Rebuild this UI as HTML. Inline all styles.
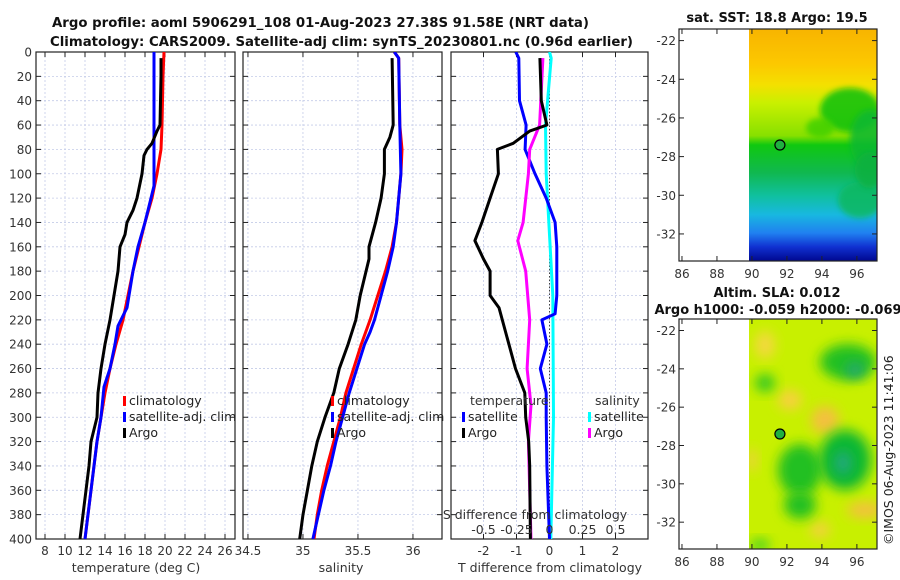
<!DOCTYPE html>
<html><head><meta charset="utf-8">
<style>
html,body{margin:0;padding:0;background:#fff;}
svg{display:block;font-family:"DejaVu Sans","Liberation Sans",sans-serif;}
</style></head>
<body>
<svg id="fig" width="900" height="580" viewBox="0 0 900 580" xmlns="http://www.w3.org/2000/svg">
<defs>
  <filter id="blur6" x="-50%" y="-50%" width="200%" height="200%"><feGaussianBlur stdDeviation="6"/></filter>
  <filter id="blur3" x="-50%" y="-50%" width="200%" height="200%"><feGaussianBlur stdDeviation="3"/></filter>
  <linearGradient id="sstGrad" x1="0" y1="0" x2="0" y2="1">
    <stop offset="0" stop-color="#f8b400"/>
    <stop offset="0.15" stop-color="#fcc800"/>
    <stop offset="0.24" stop-color="#f4e000"/>
    <stop offset="0.32" stop-color="#c8f000"/>
    <stop offset="0.46" stop-color="#88e000"/>
    <stop offset="0.5" stop-color="#10c810"/>
    <stop offset="0.62" stop-color="#10b850"/>
    <stop offset="0.72" stop-color="#10c0a0"/>
    <stop offset="0.8" stop-color="#18b8e0"/>
    <stop offset="0.88" stop-color="#2080f0"/>
    <stop offset="0.94" stop-color="#1030d0"/>
    <stop offset="1" stop-color="#000890"/>
  </linearGradient>
  <clipPath id="clipSST"><rect x="749" y="29" width="128" height="232"/></clipPath>
  <clipPath id="clipSLA"><rect x="749" y="319" width="128" height="230"/></clipPath>
  <clipPath id="clipP1"><rect x="36" y="52" width="199" height="487"/></clipPath>
  <clipPath id="clipP2"><rect x="243" y="52" width="199" height="487"/></clipPath>
  <clipPath id="clipP3"><rect x="451" y="52" width="197" height="487"/></clipPath>
</defs>

<text x="52" y="27" font-size="13" font-weight="bold" fill="#111" textLength="537" lengthAdjust="spacingAndGlyphs">Argo profile: aoml 5906291_108 01-Aug-2023 27.38S 91.58E (NRT data)</text>
<text x="50" y="46" font-size="13" font-weight="bold" fill="#111" textLength="583" lengthAdjust="spacingAndGlyphs">Climatology: CARS2009. Satellite-adj clim: synTS_20230801.nc (0.96d earlier)</text>

<g id="panels"></g>
<g id="maps"></g>
</svg>

<script>
// ---------- data ----------
const depthTicks = [0,20,40,60,80,100,120,140,160,180,200,220,240,260,280,300,320,340,360,380,400];
const tempTicks = [8,10,12,14,16,18,20,22,24,26];
const salTicks = [34.5,35,35.5,36];
const tdiffTicks = [-2,-1,0,1,2];
const sdiffTicks = [-0.5,-0.25,0,0.25,0.5];
const sdiffTickLabels = ["-0.5","-0.25","0","0.25","0.5"];

const climTempDepth = [0,20,60,80,100,120,140,160,180,200,220,240,260,280,300,320,340,360,380,400];
const climTemp = [19.9,19.8,19.7,19.6,19.2,18.7,18.0,17.4,16.8,16.3,15.8,15.1,14.5,14.0,13.6,13.2,12.9,12.6,12.3,12.0];
const satTempDepth = [0,20,60,80,100,110,120,140,160,180,200,210,225,240,260,275,300,320,340,360,380,400];
const satTemp = [18.9,18.9,18.9,18.9,18.9,18.9,18.6,18.0,17.3,16.8,16.4,16.2,15.3,15.0,14.5,13.9,13.6,13.2,12.9,12.6,12.3,12.0];
const argoTempDepth = [5,20,60,65,75,80,85,100,120,130,140,150,160,180,190,200,220,240,260,280,300,320,340,360,380,400];
const argoTemp = [19.6,19.6,19.5,19.2,18.7,18.2,17.9,17.7,17.2,16.8,16.2,16.0,15.5,15.3,15.1,14.9,14.5,14.0,13.6,13.3,13.2,12.6,12.4,12.1,11.8,11.5];

const climSalDepth = [0,5,60,80,100,120,140,160,180,200,220,240,260,280,300,320,340,360,380,400];
const climSal = [35.83,35.87,35.88,35.90,35.89,35.87,35.85,35.81,35.75,35.68,35.61,35.53,35.46,35.39,35.34,35.28,35.22,35.17,35.13,35.10];
const satSalDepth = [0,5,60,100,120,140,160,180,200,220,230,240,260,280,300,320,340,360,380,400];
const satSal = [35.83,35.87,35.88,35.89,35.87,35.85,35.82,35.77,35.71,35.65,35.61,35.56,35.49,35.42,35.36,35.30,35.25,35.19,35.14,35.09];
const argoSalDepth = [5,60,70,80,100,120,140,160,170,200,220,240,260,280,300,320,340,360,380,400];
const argoSal = [35.81,35.82,35.79,35.74,35.74,35.71,35.66,35.60,35.60,35.52,35.48,35.41,35.33,35.28,35.20,35.13,35.08,35.04,35.00,34.97];

const tdiffSatDepth = [0,5,40,60,80,100,120,140,160,200,215,220,240,260,280,300,340,400];
const tdiffSat = [-1.02,-0.93,-0.91,-0.71,-0.74,-0.44,-0.10,0.17,0.22,0.22,0.17,-0.23,-0.08,-0.28,-0.10,-0.10,-0.08,0.0];
const tdiffArgoDepth = [5,40,60,65,75,80,100,120,140,155,170,180,200,210,220,240,260,280,300,320,340,400];
const tdiffArgo = [-0.29,-0.25,-0.08,-0.6,-1.1,-1.58,-1.55,-1.8,-2.05,-2.26,-2.0,-1.8,-1.8,-1.53,-1.43,-1.23,-1.03,-0.75,-0.72,-0.63,-0.60,-0.58];
const sdiffArgoDepth = [5,60,80,100,140,155,180,220,260,290,320,400];
const sdiffArgo = [-0.05,-0.075,-0.15,-0.16,-0.2,-0.24,-0.18,-0.15,-0.17,-0.14,-0.16,-0.14];
const sdiffSatDepth = [0,5,60,100,200,300,400];
const sdiffSat = [0.0,0.013,-0.03,-0.025,0.025,0.03,0.01];

const lonTicks = [86,88,90,92,94,96];
const latTicks = [-22,-24,-26,-28,-30,-32];
const floatLon = 91.6, floatLat = -27.4;

// ---------- helpers ----------
const NS = "http://www.w3.org/2000/svg";
function mk(tag, attrs, parent){
  const e = document.createElementNS(NS, tag);
  for (const k in attrs) e.setAttribute(k, attrs[k]);
  if (parent) parent.appendChild(e);
  return e;
}
const panels = document.getElementById('panels');
const maps = document.getElementById('maps');
const Y0 = 52, Y1 = 539;
const yDepth = d => Y0 + (d/400)*(Y1-Y0);

function makeAxis(x0, x1, vmin, vmax){ return v => x0 + (v-vmin)/(vmax-vmin)*(x1-x0); }

function drawFrame(g, x0, x1, xf, ticks, labels, showDepthLabels, name){
  ticks.forEach(t => {
    const x = xf(t);
    const gl = mk('line',{x1:x,x2:x,y1:Y0,y2:Y1,stroke:'#c4cbe8','stroke-width':0.8,'stroke-dasharray':'2,2'},g);
    
    
    const tk = mk('line',{x1:x,x2:x,y1:Y1,y2:Y1-5,stroke:'#222','stroke-width':1},g);
    
    
    const tk2 = mk('line',{x1:x,x2:x,y1:Y0,y2:Y0+5,stroke:'#222','stroke-width':1},g);
    
    
  });
  depthTicks.forEach(d => {
    const y = yDepth(d);
    if (d>0 && d<400){
      const gl = mk('line',{x1:x0,x2:x1,y1:y,y2:y,stroke:'#c4cbe8','stroke-width':0.8,'stroke-dasharray':'2,2'},g);
      
      
    }
    const t1 = mk('line',{x1:x0,x2:x0+5,y1:y,y2:y,stroke:'#222','stroke-width':1},g);
    
    
    const t2 = mk('line',{x1:x1-5,x2:x1,y1:y,y2:y,stroke:'#222','stroke-width':1},g);
    
    
    if (showDepthLabels){
      const tl = mk('text',{x:x0-4,y:y+4.5,'font-size':12,'text-anchor':'end',fill:'#333'},g);
      tl.textContent = d;
      
      
    }
  });
  if (labels){
    ticks.forEach((t,i) => {
      const tl = mk('text',{x:xf(t),y:Y1+16,'font-size':12,'text-anchor':'middle',fill:'#333'},g);
      tl.textContent = labels[i];
      
      
    });
  }
  const fr = mk('rect',{x:x0,y:Y0,width:x1-x0,height:Y1-Y0,fill:'none',stroke:'#222','stroke-width':1.2},g);
  
  
}

function drawLine(g, xf, vals, depths, color, name, clip){
  const pts = vals.map((v,i) => xf(v).toFixed(1)+','+yDepth(depths[i]).toFixed(1)).join(' ');
  const pl = mk('polyline',{points:pts,fill:'none',stroke:color,'stroke-width':3,'stroke-linejoin':'round','clip-path':'url(#'+clip+')'},g);
  
  
}
function legendEntry(g, x, y, color, label, name){
  const m = mk('rect',{x:x,y:y-9,width:3,height:10,fill:color},g);
  
  
  const t = mk('text',{x:x+6,y:y,'font-size':12.5,fill:'#222'},g);
  t.textContent = label;
  
  
}
function label(g, x, y, txt, name, anchor){
  const t = mk('text',{x:x,y:y,'font-size':12.5,'text-anchor':anchor||'middle',fill:'#333'},g);
  t.textContent = txt;
  
  
  return t;
}

// ---------- panel 1: temperature ----------
const g1 = mk('g',{},panels);


const xT = makeAxis(36, 235, 7.1, 27.0);
drawFrame(g1, 36, 235, xT, tempTicks, tempTicks.map(String), true, 'temperature-panel');
drawLine(g1, xT, climTemp, climTempDepth, '#ff0000', 'climatology-temperature-line', 'clipP1');
drawLine(g1, xT, satTemp, satTempDepth, '#0000ff', 'satellite-temperature-line', 'clipP1');
drawLine(g1, xT, argoTemp, argoTempDepth, '#000000', 'argo-temperature-line', 'clipP1');
legendEntry(g1, 123, 405, '#ff0000', 'climatology', 'legend-climatology');
legendEntry(g1, 123, 421, '#0000ff', 'satellite-adj. clim', 'legend-satellite-adj');
legendEntry(g1, 123, 437, '#000000', 'Argo', 'legend-argo');
label(g1, 136, 572, 'temperature (deg C)', 'temperature-axis-title');

// ---------- panel 2: salinity ----------
const g2 = mk('g',{},panels);


const xS = makeAxis(243, 442, 34.455, 36.264);
drawFrame(g2, 243, 442, xS, salTicks, salTicks.map(String), false, 'salinity-panel');
drawLine(g2, xS, climSal, climSalDepth, '#ff0000', 'climatology-salinity-line', 'clipP2');
drawLine(g2, xS, satSal, satSalDepth, '#0000ff', 'satellite-salinity-line', 'clipP2');
drawLine(g2, xS, argoSal, argoSalDepth, '#000000', 'argo-salinity-line', 'clipP2');
legendEntry(g2, 331, 405, '#ff0000', 'climatology', 'legend-climatology-sal');
legendEntry(g2, 331, 421, '#0000ff', 'satellite-adj. clim', 'legend-satellite-adj-sal');
legendEntry(g2, 331, 437, '#000000', 'Argo', 'legend-argo-sal');
label(g2, 341, 572, 'salinity', 'salinity-axis-title');

// ---------- panel 3: differences ----------
const g3 = mk('g',{},panels);


const xD = makeAxis(451, 648, -2.985, 2.985);
const xSD = v => xD(v*4);
drawFrame(g3, 451, 648, xD, tdiffTicks, tdiffTicks.map(String), false, 'difference-panel');
const zl = mk('line',{x1:xD(0),x2:xD(0),y1:Y0,y2:Y1,stroke:'#444','stroke-width':1,'stroke-dasharray':'1.5,2'},g3);


drawLine(g3, xSD, sdiffSat, sdiffSatDepth, '#00ffff', 'satellite-salinity-diff-line', 'clipP3');
drawLine(g3, xD, tdiffSat, tdiffSatDepth, '#0000ff', 'satellite-temperature-diff-line', 'clipP3');
drawLine(g3, xSD, sdiffArgo, sdiffArgoDepth, '#ff00ff', 'argo-salinity-diff-line', 'clipP3');
drawLine(g3, xD, tdiffArgo, tdiffArgoDepth, '#000000', 'argo-temperature-diff-line', 'clipP3');
label(g3, 470, 405, 'temperature', 'legend-temperature-header', 'start');
legendEntry(g3, 462, 421, '#0000ff', 'satellite', 'legend-temp-satellite');
legendEntry(g3, 462, 437, '#000000', 'Argo', 'legend-temp-argo');
label(g3, 595, 405, 'salinity', 'legend-salinity-header', 'start');
legendEntry(g3, 588, 421, '#00ffff', 'satellite', 'legend-sal-satellite');
legendEntry(g3, 588, 437, '#ff00ff', 'Argo', 'legend-sal-argo');
label(g3, 535, 519, 'S difference from climatology', 'salinity-diff-axis-title');
sdiffTicks.forEach((s,i) => {
  label(g3, xSD(s), 534, sdiffTickLabels[i], 'salinity-diff-tick-label');
});
label(g3, 550, 572, 'T difference from climatology', 'temperature-diff-axis-title');

// ---------- maps ----------
const MX0 = 679, MX1 = 877;
const lonF = makeAxis(MX0, MX1, 85.83, 97.15);
function drawMap(top, bottom, name, titles, fillFn){
  const g = mk('g',{},maps);
  
  
  const latF = v => top + (-21.4 - v)/(12.0)*(bottom-top);
  fillFn(g, latF);
  const fr = mk('rect',{x:MX0,y:top,width:MX1-MX0,height:bottom-top,fill:'none',stroke:'#222','stroke-width':1.2},g);
  
  
  latTicks.forEach(la => {
    const y = latF(la);
    const t1 = mk('line',{x1:MX0,x2:MX0+5,y1:y,y2:y,stroke:'#222'},g);
    
    
    const t2 = mk('line',{x1:MX1-5,x2:MX1,y1:y,y2:y,stroke:'#222'},g);
    
    
    const tl = mk('text',{x:MX0-3,y:y+4.5,'font-size':12,'text-anchor':'end',fill:'#333'},g);
    tl.textContent = la;
    
    
  });
  lonTicks.forEach(lo => {
    const x = lonF(lo);
    const t1 = mk('line',{x1:x,x2:x,y1:bottom,y2:bottom-5,stroke:'#222'},g);
    
    
    const t2 = mk('line',{x1:x,x2:x,y1:top,y2:top+5,stroke:'#222'},g);
    
    
    const tl = mk('text',{x:x,y:bottom+17,'font-size':12,'text-anchor':'middle',fill:'#333'},g);
    tl.textContent = lo;
    
    
  });
  const c = mk('circle',{cx:lonF(floatLon),cy:latF(floatLat),r:5,fill:'#20b040',stroke:'#000','stroke-width':1.2},g);
  
  
  titles.forEach(tt => {
    const t = mk('text',{x:tt.x,y:tt.y,'font-size':13,'font-weight':'bold','text-anchor':'middle',fill:'#111'},g);
    t.textContent = tt.text;
    
    
  });
}

drawMap(29, 261, 'sst-map', [{x:777,y:22,text:'sat. SST: 18.8 Argo: 19.5',name:'sst-map-title'}], (g, latF) => {
  const cg = mk('g',{'clip-path':'url(#clipSST)'},g);
  const r = mk('rect',{x:749,y:29,width:128,height:232,fill:'url(#sstGrad)'},cg);
  
  
  const blobs = [[850,110,30,22,'#10c010'],[870,140,20,30,'#10b830'],[820,128,14,10,'#40d000'],[860,200,22,18,'#10b860'],[870,170,15,18,'#10b040']];
  blobs.forEach(b => {
    const e = mk('ellipse',{cx:b[0],cy:b[1],rx:b[2],ry:b[3],fill:b[4],filter:'url(#blur3)',opacity:0.85},cg);
    
    
  });
});

drawMap(319, 549, 'sla-map', [
  {x:777,y:297,text:'Altim. SLA: 0.012',name:'sla-map-title'},
  {x:778,y:314,text:'Argo h1000: -0.059 h2000: -0.069',name:'sla-map-subtitle'}], (g, latF) => {
  const cg = mk('g',{'clip-path':'url(#clipSLA)'},g);
  const r = mk('rect',{x:749,y:319,width:128,height:230,fill:'#c8f000'},cg);
  
  
  const blobs = [
    [765,345,10,14,'#f4d840'],[790,400,12,10,'#f8d040'],[825,420,14,14,'#f4c040'],[865,510,18,8,'#f4c040'],[820,530,10,8,'#f4d040'],[752,460,5,12,'#f0d040'],
    [848,362,28,18,'#20c020'],[765,383,10,9,'#30c820'],
    [800,470,22,26,'#20c020'],[800,505,16,14,'#20c020'],[845,460,26,30,'#10b830'],[843,463,8,12,'#20a880'],[855,370,10,8,'#20a870'],
    [760,545,10,6,'#40d020']];
  blobs.forEach(b => {
    const e = mk('ellipse',{cx:b[0],cy:b[1],rx:b[2],ry:b[3],fill:b[4],filter:'url(#blur6)'},cg);
    
    
  });
});

const cr = mk('text',{x:0,y:0,'font-size':12.5,fill:'#222',transform:'translate(893,545) rotate(-90)'},maps);
cr.textContent = '©IMOS 06-Aug-2023 11:41:06';


</script>
</body></html>
